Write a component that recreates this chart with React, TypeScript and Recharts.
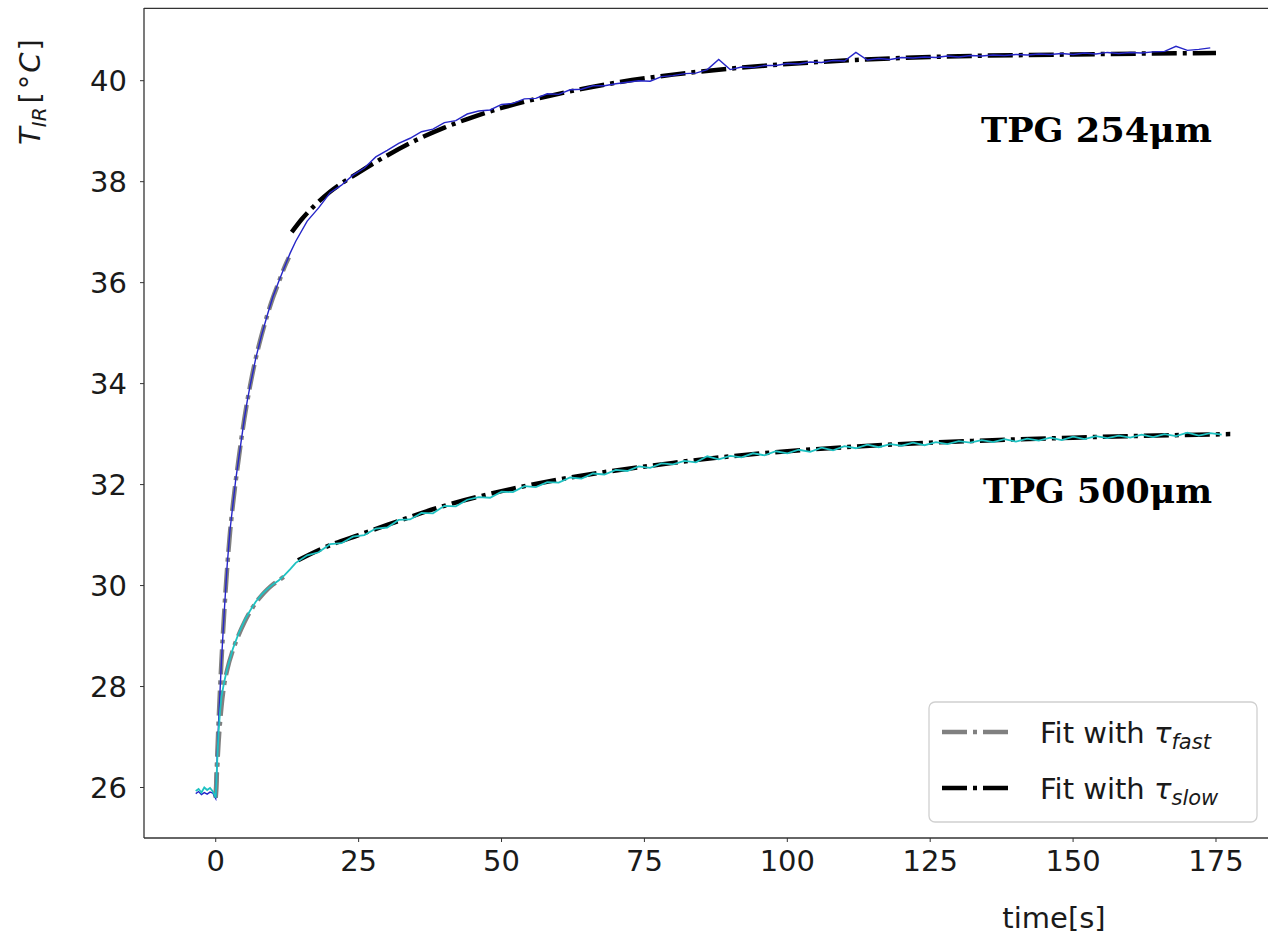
import React from "react";
import { LineChart, Line, XAxis, YAxis } from "recharts";

// pre-step baseline + fast rise, then 2 s sampling
const upperTimes = [
  -3.5, -3, -2.5, -2, -1.5, -1, -0.5, 0,
  0.25, 0.5, 0.75, 1, 1.25, 1.5, 2, 2.5, 3, 3.5, 4, 4.5, 5, 5.5, 6, 7, 8, 9, 10, 11, 12, 13, 14,
  16, 18, 20, 22, 24, 26, 28, 30, 32, 34, 36, 38, 40, 42, 44, 46, 48, 50, 52, 54, 56, 58, 60,
  62, 64, 66, 68, 70, 72, 74, 76, 78, 80, 82, 84, 86, 88, 90, 92, 94, 96, 98, 100, 102, 104,
  106, 108, 110, 112, 114, 116, 118, 120, 122, 124, 126, 128, 130, 132, 134, 136, 138, 140,
  142, 144, 146, 148, 150, 152, 154, 156, 158, 160, 162, 164, 166, 168, 170, 172, 174,
];
const upperTemps = [
  25.88, 25.92, 25.86, 25.9, 25.87, 25.91, 25.89, 25.78,
  26.6, 27.3, 27.9, 28.5, 29.0, 29.5, 30.4, 31.1, 31.6, 32.1, 32.5, 32.9, 33.3, 33.65, 33.95,
  34.5, 34.95, 35.35, 35.72, 36.02, 36.3, 36.58, 36.82,
  37.22, 37.48, 37.78, 37.93, 38.13, 38.27, 38.49, 38.62, 38.76, 38.86, 38.99, 39.04, 39.17,
  39.21, 39.34, 39.4, 39.42, 39.53, 39.55, 39.64, 39.65, 39.74, 39.73, 39.82, 39.83, 39.9,
  39.9, 39.94, 39.97, 40.0, 39.99, 40.08, 40.1, 40.14, 40.15, 40.22, 40.42, 40.22, 40.27,
  40.26, 40.3, 40.3, 40.34, 40.33, 40.37, 40.36, 40.4, 40.39, 40.56, 40.41, 40.44, 40.42,
  40.46, 40.45, 40.47, 40.46, 40.49, 40.47, 40.5, 40.49, 40.51, 40.5, 40.52, 40.51, 40.53,
  40.52, 40.54, 40.52, 40.55, 40.53, 40.56, 40.54, 40.56, 40.55, 40.57, 40.58, 40.68, 40.6,
  40.62, 40.65,
];

const lowerTimes = [
  -3.5, -3, -2.5, -2, -1.5, -1, -0.5, 0,
  0.25, 0.5, 0.75, 1, 1.5, 2, 2.5, 3, 3.5, 4, 5, 6, 7, 8, 9, 10, 11, 12, 13, 14,
  16, 18, 20, 22, 24, 26, 28, 30, 32, 34, 36, 38, 40, 42, 44, 46, 48, 50, 52, 54, 56, 58, 60,
  62, 64, 66, 68, 70, 72, 74, 76, 78, 80, 82, 84, 86, 88, 90, 92, 94, 96, 98, 100, 102, 104,
  106, 108, 110, 112, 114, 116, 118, 120, 122, 124, 126, 128, 130, 132, 134, 136, 138, 140,
  142, 144, 146, 148, 150, 152, 154, 156, 158, 160, 162, 164, 166, 168, 170, 172, 174, 176,
];
const lowerTemps = [
  25.93, 25.97, 25.9, 26.0, 25.95, 25.99, 25.92, 25.8,
  26.5, 27.1, 27.5, 27.8, 28.1, 28.35, 28.55, 28.75, 28.9, 29.05, 29.3, 29.5, 29.68, 29.82,
  29.93, 30.02, 30.1, 30.2, 30.32, 30.45,
  30.6, 30.66, 30.82, 30.84, 30.97, 31.0, 31.13, 31.15, 31.3, 31.31, 31.44, 31.43, 31.58,
  31.57, 31.7, 31.75, 31.74, 31.86, 31.85, 31.97, 31.95, 32.05, 32.04, 32.14, 32.12, 32.22,
  32.2, 32.29, 32.27, 32.36, 32.33, 32.42, 32.4, 32.47, 32.44, 32.56, 32.5, 32.57, 32.54,
  32.62, 32.58, 32.66, 32.62, 32.69, 32.65, 32.73, 32.68, 32.76, 32.72, 32.79, 32.74, 32.8,
  32.77, 32.83, 32.78, 32.84, 32.8, 32.86, 32.83, 32.88, 32.84, 32.9, 32.85, 32.91, 32.87,
  32.93, 32.88, 32.95, 32.9, 32.96, 32.92, 32.97, 32.93, 32.99, 32.94, 33.0, 32.96, 33.03,
  32.97, 33.02, 32.99,
];

const upperFastTimes = [0, 0.5, 1, 1.5, 2, 2.5, 3, 4, 5, 6, 7, 8, 9, 10, 11, 12, 12.8];
const upperFastTemps = [25.8, 27.3, 28.5, 29.5, 30.35, 31.05, 31.6, 32.5, 33.3, 33.95, 34.5, 34.95, 35.35, 35.7, 36.0, 36.3, 36.5];

const upperSlowTimes = [13.3, 15, 20, 25, 30, 35, 40, 45, 50, 60, 70, 80, 90, 100, 110, 125, 150, 175];
const upperSlowTemps = [37.0, 37.25, 37.8, 38.18, 38.52, 38.82, 39.07, 39.28, 39.46, 39.74, 39.96, 40.12, 40.24, 40.33, 40.4, 40.47, 40.52, 40.55];

const lowerFastTimes = [0, 0.5, 1, 1.5, 2, 3, 4, 5, 6, 7, 8, 9, 10, 11, 12];
const lowerFastTemps = [25.8, 26.9, 27.6, 28.05, 28.33, 28.72, 29.02, 29.27, 29.48, 29.66, 29.8, 29.92, 30.02, 30.1, 30.18];

const lowerSlowTimes = [14.4, 20, 25, 30, 40, 50, 60, 70, 80, 90, 100, 110, 125, 150, 177.5];
const lowerSlowTemps = [30.5, 30.8, 31.0, 31.2, 31.58, 31.87, 32.1, 32.28, 32.43, 32.56, 32.66, 32.74, 32.83, 32.93, 33.0];

const xTicks = [0, 25, 50, 75, 100, 125, 150, 175];
const yTicks = [26, 28, 30, 32, 34, 36, 38, 40];

const toPts = (ts: number[], vs: number[]) => ts.map((t, i) => ({ t, v: vs[i] }));

const W = 1268;
const H = 936;
const FONT = "DejaVu Sans";
const DASHDOT = "25 6 4 6";

export default function App() {
  const tick = { fill: "#1a1a1a", fontSize: 29, fontFamily: FONT };

  return (
    <div style={{ position: "absolute", left: 0, top: 0, width: W, height: H, background: "#fff" }}>
      <LineChart width={W} height={H} margin={{ top: 8, right: 0, bottom: 0, left: 0 }}>
        <XAxis
          type="number"
          dataKey="t"
          domain={[-12.55, 184.1]}
          ticks={xTicks}
          allowDataOverflow
          height={98}
          tickSize={4}
          tickMargin={8}
          tick={tick}
          axisLine={{ stroke: "#333", strokeWidth: 1.3 }}
          tickLine={{ stroke: "#333" }}
        />
        <YAxis
          type="number"
          dataKey="v"
          domain={[25.0, 41.44]}
          ticks={yTicks}
          allowDataOverflow
          width={144}
          tickSize={4}
          tickMargin={13}
          tick={tick}
          axisLine={{ stroke: "#333", strokeWidth: 1.3 }}
          tickLine={{ stroke: "#333" }}
        />
        <Line data={toPts(upperFastTimes, upperFastTemps)} dataKey="v" type="monotone" stroke="#808080" strokeWidth={4.5} strokeDasharray={DASHDOT} dot={false} activeDot={false} isAnimationActive={false} />
        <Line data={toPts(lowerFastTimes, lowerFastTemps)} dataKey="v" type="monotone" stroke="#808080" strokeWidth={4.5} strokeDasharray={DASHDOT} dot={false} activeDot={false} isAnimationActive={false} />
        <Line data={toPts(upperSlowTimes, upperSlowTemps)} dataKey="v" type="monotone" stroke="#000" strokeWidth={4.5} strokeDasharray={DASHDOT} dot={false} activeDot={false} isAnimationActive={false} />
        <Line data={toPts(lowerSlowTimes, lowerSlowTemps)} dataKey="v" type="monotone" stroke="#000" strokeWidth={4.5} strokeDasharray={DASHDOT} dot={false} activeDot={false} isAnimationActive={false} />
        <Line data={toPts(upperTimes, upperTemps)} dataKey="v" type="linear" stroke="#2626c8" strokeWidth={1.4} dot={false} activeDot={false} isAnimationActive={false} />
        <Line data={toPts(lowerTimes, lowerTemps)} dataKey="v" type="linear" stroke="#1fc2c2" strokeWidth={1.8} dot={false} activeDot={false} isAnimationActive={false} />
      </LineChart>

      <svg width={W} height={H} style={{ position: "absolute", left: 0, top: 0, pointerEvents: "none" }}>
        {/* top spine */}
        <line x1={144} y1={8.3} x2={W} y2={8.3} stroke="#333" strokeWidth={1.3} />

        {/* y label */}
        <text transform="translate(40,92) rotate(-90)" textAnchor="middle" fontFamily={FONT} fontSize={29} fill="#1a1a1a">
          <tspan fontStyle="italic">T</tspan>
          <tspan fontStyle="italic" fontSize={20} dy={6}>IR</tspan>
          <tspan dy={-6} dx={4}>[</tspan>
          <tspan dx={3}>°</tspan>
          <tspan fontStyle="italic" dx={2}>C</tspan>
          <tspan dx={2}>]</tspan>
        </text>

        {/* x label */}
        <text x={1054} y={928} textAnchor="middle" fontFamily={FONT} fontSize={29} fill="#1a1a1a">time[s]</text>

        {/* curve labels */}
        <text x={981} y={142} fontFamily="DejaVu Serif" fontWeight="bold" fontSize={34} textLength={231} lengthAdjust="spacingAndGlyphs" fill="#000">TPG 254μm</text>
        <text x={983} y={503} fontFamily="DejaVu Serif" fontWeight="bold" fontSize={34} textLength={229} lengthAdjust="spacingAndGlyphs" fill="#000">TPG 500μm</text>

        {/* legend */}
        <rect x={929} y={702} width={328} height={120} rx={6} fill="#fff" fillOpacity={0.8} stroke="#d0d0d0" strokeWidth={1.3} />
        <line x1={942} y1={732} x2={1008} y2={732} stroke="#808080" strokeWidth={4.5} strokeDasharray={DASHDOT} />
        <text x={1040} y={743} fontFamily={FONT} fontSize={29} fill="#1a1a1a">
          <tspan>Fit with </tspan>
          <tspan fontStyle="italic">τ</tspan>
          <tspan fontStyle="italic" fontSize={21} dy={6}>fast</tspan>
        </text>
        <line x1={942} y1={788} x2={1008} y2={788} stroke="#000" strokeWidth={4.5} strokeDasharray={DASHDOT} />
        <text x={1040} y={799} fontFamily={FONT} fontSize={29} fill="#1a1a1a">
          <tspan>Fit with </tspan>
          <tspan fontStyle="italic">τ</tspan>
          <tspan fontStyle="italic" fontSize={21} dy={6}>slow</tspan>
        </text>
      </svg>
    </div>
  );
}
